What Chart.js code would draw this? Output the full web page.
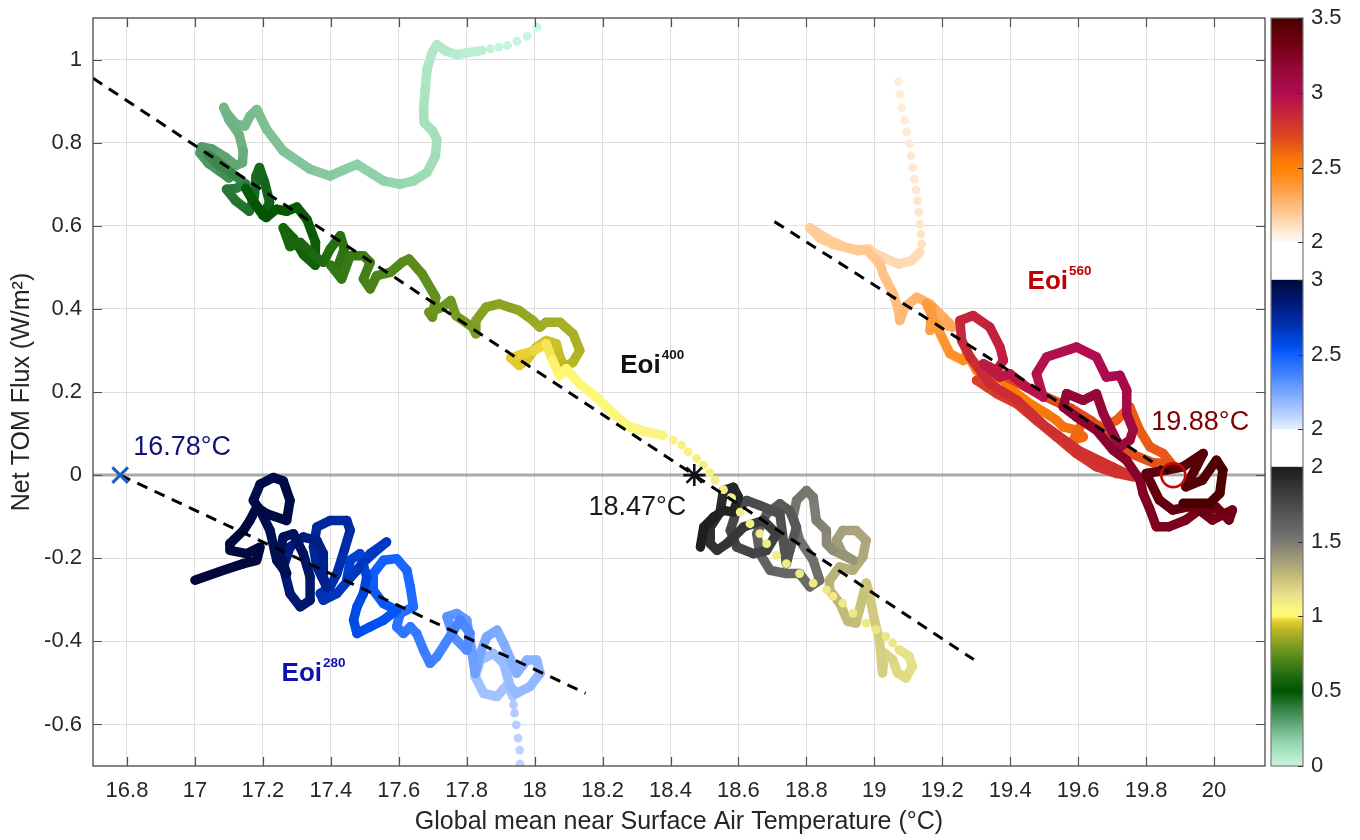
<!DOCTYPE html>
<html><head><meta charset="utf-8">
<script src="https://cdn.jsdelivr.net/npm/chart.js@4.4.1/dist/chart.umd.min.js"></script>
<style>html,body{margin:0;padding:0;background:#fff}canvas{display:block}</style>
</head><body>
<canvas id="c" width="1360" height="840"></canvas>
<script>
// ---------------- DATA ----------------
const xTicks = [16.8,17,17.2,17.4,17.6,17.8,18,18.2,18.4,18.6,18.8,19,19.2,19.4,19.6,19.8,20];
const xTickLabels = ['16.8','17','17.2','17.4','17.6','17.8','18','18.2','18.4','18.6','18.8','19','19.2','19.4','19.6','19.8','20'];
const yTicks = [-0.6,-0.4,-0.2,0,0.2,0.4,0.6,0.8,1];
const yTickLabels = ['-0.6','-0.4','-0.2','0','0.2','0.4','0.6','0.8','1'];
// colorbar ticks (position on the stacked bar, label shown)
const cbTickPos = [0,0.5,1,1.5,2,2.25,2.75,3.25,3.5,4,4.5,5];
const cbTickLabels = ['0','0.5','1','1.5','2','2','2.5','3','2','2.5','3','3.5'];

// equilibrium points
const eqTemps = [16.78, 18.47, 19.88];
const eqFlux = [0, 0, 0];
const eqLabels = ['16.78°C', '18.47°C', '19.88°C'];
const runNames = ['Eoi', 'Eoi', 'Eoi'];
const runCO2 = ['280', '400', '560'];

// regression lines [T, F]
const fit280 = [[16.78, 0], [18.15, -0.525]];
const fit400 = [[16.70, 0.955], [19.293, -0.444]];
const fit560 = [[18.706, 0.61], [19.88, 0]];
const zeroLine = [[16.7, 0], [20.15, 0]];

// trajectories: [temperature, flux, time (kyr)]
const e400DotsA = [[18.007,1.078,0.0],[17.978,1.056,0.004],[17.948,1.044,0.008],[17.92,1.034,0.012],[17.895,1.03,0.016],[17.87,1.026,0.02]];
const e400PathA = [[17.845,1.022,0.03],[17.80,1.016,0.04],[17.77,1.012,0.05],[17.74,1.02,0.06],[17.712,1.036,0.07],[17.698,1.016,0.075],[17.683,0.976,0.08],[17.678,0.928,0.09],[17.673,0.88,0.10],[17.675,0.848,0.105],[17.70,0.828,0.11],[17.712,0.808,0.115],[17.708,0.768,0.12],[17.683,0.728,0.13],[17.644,0.708,0.14],[17.604,0.70,0.15],[17.555,0.708,0.16],[17.477,0.748,0.175],[17.44,0.735,0.18],[17.398,0.72,0.185],[17.339,0.736,0.195],[17.26,0.78,0.205],[17.211,0.832,0.215],[17.182,0.88,0.22],[17.162,0.864,0.225],[17.147,0.84,0.23],[17.12,0.845,0.235],[17.09,0.875,0.24],[17.085,0.885,0.242],[17.1,0.855,0.245],[17.13,0.82,0.25],[17.142,0.78,0.26],[17.14,0.752,0.27],
[17.12,0.745,0.28],[17.09,0.765,0.29],[17.05,0.785,0.30],[17.02,0.79,0.31],[17.015,0.775,0.315],[17.04,0.75,0.32],[17.075,0.73,0.33],[17.10,0.715,0.34],[17.075,0.74,0.35],[17.04,0.77,0.355],[17.065,0.755,0.36],[17.11,0.725,0.37],[17.15,0.70,0.38],[17.12,0.69,0.39],[17.093,0.688,0.40],[17.12,0.66,0.41],[17.16,0.635,0.42],[17.175,0.67,0.43],[17.18,0.72,0.44],[17.19,0.74,0.445],[17.205,0.705,0.45],[17.22,0.656,0.46],[17.2,0.625,0.47],[17.17,0.66,0.475],[17.15,0.69,0.48],[17.18,0.65,0.49],[17.21,0.62,0.50],[17.24,0.64,0.51],[17.27,0.635,0.52],[17.3,0.645,0.525],[17.33,0.615,0.53],[17.355,0.56,0.54],[17.354,0.505,0.55],[17.32,0.53,0.56],[17.29,0.57,0.565],[17.26,0.595,0.57],[17.28,0.55,0.58],[17.31,0.56,0.585],[17.35,0.528,0.59],[17.378,0.512,0.60],
[17.398,0.544,0.61],[17.428,0.576,0.62],[17.44,0.545,0.63],[17.418,0.496,0.64],[17.40,0.505,0.645],[17.432,0.472,0.65],[17.457,0.528,0.66],[17.496,0.528,0.67],[17.516,0.512,0.68],[17.496,0.472,0.69],[17.516,0.448,0.695],[17.535,0.48,0.70],[17.575,0.488,0.71],[17.61,0.512,0.72],[17.63,0.52,0.73],[17.669,0.484,0.74],[17.709,0.428,0.75],[17.699,0.38,0.76],[17.689,0.392,0.765],[17.728,0.404,0.77],[17.753,0.42,0.78],[17.768,0.384,0.79],[17.817,0.356,0.80],[17.827,0.34,0.805],[17.827,0.372,0.81],[17.857,0.404,0.82],[17.896,0.412,0.83],[17.955,0.396,0.84],[17.995,0.372,0.85],[18.015,0.356,0.86],[18.034,0.368,0.87],[18.074,0.368,0.875],[18.113,0.34,0.88],[18.133,0.30,0.89],[18.113,0.272,0.90],[18.089,0.26,0.91],[18.074,0.284,0.92],[18.064,0.316,0.93],[18.034,0.324,0.935],[18.005,0.308,0.94],[17.976,0.276,0.95],[17.955,0.264,0.96],[17.93,0.282,0.965],[17.96,0.29,0.97],[18.0,0.30,0.975],[18.034,0.316,0.98],[18.053,0.276,0.995],[18.073,0.24,1.0],[18.093,0.256,1.01],[18.132,0.22,1.02],[18.181,0.188,1.03],[18.231,0.148,1.04],[18.28,0.116,1.05],[18.329,0.104,1.055],[18.378,0.096,1.06]];
const e400DotsB = [[18.408,0.084,1.07],[18.433,0.072,1.072],[18.452,0.056,1.074],[18.477,0.04,1.076],[18.497,0.024,1.078],[18.516,0.006,1.08],[18.531,-0.012,1.082],[18.556,-0.035,1.084],[18.58,-0.055,1.086],[18.605,-0.089,1.088],[18.634,-0.117,1.09],[18.663,-0.141,1.092],[18.683,-0.165,1.094],[18.712,-0.193,1.096],[18.741,-0.213,1.098],[18.78,-0.237,1.10],[18.82,-0.26,1.102],[18.859,-0.276,1.104],[18.878,-0.292,1.106],[18.907,-0.308,1.108],[18.937,-0.332,1.11],[18.976,-0.356,1.112],[19.005,-0.372,1.114],[19.034,-0.388,1.116],[19.054,-0.404,1.118]];
const e400PathB = [[19.073,-0.42,1.13],[19.102,-0.436,1.14],[19.112,-0.46,1.15],[19.093,-0.488,1.16],[19.068,-0.476,1.17],[19.054,-0.444,1.18],[19.029,-0.428,1.19],[19.024,-0.476,1.2],[19.015,-0.396,1.21],[19.0,-0.348,1.22],[18.985,-0.284,1.23],[18.976,-0.26,1.24],[18.966,-0.292,1.25],[18.946,-0.356,1.26],[18.922,-0.352,1.27],[18.898,-0.308,1.28],[18.868,-0.276,1.29],[18.868,-0.253,1.3],[18.898,-0.221,1.31],[18.937,-0.229,1.32],[18.966,-0.197,1.33],[18.976,-0.157,1.34],[18.946,-0.133,1.35],[18.907,-0.133,1.36],[18.888,-0.157,1.37],[18.907,-0.189,1.38],[18.937,-0.205,1.39],[18.878,-0.181,1.42],[18.859,-0.165,1.44],[18.859,-0.133,1.46],[18.829,-0.109,1.48],[18.82,-0.053,1.5],[18.8,-0.037,1.51],[18.771,-0.061,1.52],[18.761,-0.101,1.53],[18.78,-0.157,1.54],[18.82,-0.205,1.55],[18.839,-0.253,1.56],[18.81,-0.269,1.57],[18.78,-0.237,1.58],[18.741,-0.237,1.59],[18.693,-0.229,1.6],[18.663,-0.189,1.62],[18.654,-0.141,1.63],[18.683,-0.093,1.64],[18.722,-0.069,1.65],[18.751,-0.086,1.66],[18.771,-0.126,1.67],[18.751,-0.181,1.68],[18.741,-0.213,1.69],[18.732,-0.157,1.7],[18.722,-0.093,1.71],[18.663,-0.073,1.73],[18.624,-0.061,1.74],[18.595,-0.085,1.75],[18.576,-0.133,1.76],[18.595,-0.173,1.77],[18.644,-0.189,1.78],[18.683,-0.181,1.79],[18.712,-0.141,1.8],[18.673,-0.109,1.82],[18.615,-0.125,1.84],[18.566,-0.165,1.86],[18.537,-0.181,1.87],[18.517,-0.165,1.88],[18.517,-0.125,1.9],[18.546,-0.089,1.91],[18.556,-0.037,1.92],[18.585,-0.029,1.93],[18.6,-0.053,1.94],[18.585,-0.089,1.95],[18.556,-0.085,1.96],[18.527,-0.101,1.97],[18.498,-0.125,1.98],[18.488,-0.173,2.0]];

const e280Dots = [[17.957,-0.695,2.08],[17.956,-0.662,2.09],[17.951,-0.633,2.1],[17.946,-0.601,2.11],[17.941,-0.573,2.115],[17.938,-0.553,2.12]];
const e280Path = [[17.936,-0.533,2.13],[17.928,-0.517,2.135],[17.923,-0.501,2.14],[17.889,-0.533,2.145],[17.85,-0.525,2.15],[17.825,-0.485,2.155],[17.84,-0.445,2.16],[17.879,-0.429,2.165],[17.909,-0.453,2.17],[17.928,-0.509,2.175],[17.947,-0.525,2.18],[17.986,-0.509,2.185],[18.016,-0.477,2.19],[18.006,-0.445,2.195],[17.977,-0.445,2.2],[17.947,-0.477,2.21],[17.909,-0.405,2.22],[17.889,-0.373,2.23],[17.859,-0.389,2.24],[17.84,-0.429,2.25],[17.825,-0.477,2.26],[17.81,-0.397,2.28],[17.8,-0.349,2.29],[17.771,-0.333,2.3],[17.742,-0.341,2.31],[17.761,-0.389,2.32],[17.8,-0.421,2.33],[17.81,-0.381,2.34],[17.781,-0.349,2.35],[17.712,-0.437,2.37],[17.692,-0.453,2.38],[17.673,-0.421,2.39],[17.653,-0.381,2.4],[17.634,-0.365,2.41],[17.614,-0.381,2.42],[17.594,-0.365,2.43],[17.604,-0.333,2.44],[17.643,-0.317,2.45],[17.634,-0.269,2.46],[17.624,-0.229,2.47],[17.594,-0.201,2.48],[17.555,-0.205,2.49],[17.525,-0.237,2.5],[17.525,-0.277,2.51],[17.555,-0.309,2.52],[17.594,-0.325,2.53],[17.555,-0.349,2.54],[17.516,-0.365,2.55],[17.477,-0.381,2.56],[17.467,-0.349,2.57],[17.477,-0.317,2.58],[17.496,-0.285,2.59],[17.506,-0.245,2.6],[17.486,-0.189,2.61],[17.457,-0.205,2.62],[17.447,-0.253,2.63],[17.477,-0.229,2.64],[17.516,-0.189,2.645],[17.564,-0.161,2.65],[17.535,-0.181,2.655],[17.496,-0.21,2.66],[17.418,-0.285,2.67],[17.378,-0.301,2.68],[17.369,-0.285,2.69],[17.398,-0.269,2.7],[17.418,-0.237,2.71],[17.44,-0.18,2.72],[17.457,-0.133,2.73],[17.447,-0.109,2.74],[17.398,-0.109,2.75],[17.359,-0.125,2.76],[17.349,-0.173,2.77],[17.359,-0.221,2.78],[17.388,-0.269,2.79],[17.378,-0.245,2.8],[17.378,-0.189,2.81],[17.359,-0.157,2.82],[17.319,-0.149,2.83],[17.28,-0.173,2.84],[17.26,-0.221,2.85],[17.28,-0.285,2.86],[17.31,-0.317,2.87],[17.339,-0.301,2.88],[17.339,-0.245,2.89],[17.319,-0.189,2.9],[17.29,-0.141,2.91],[17.26,-0.149,2.92],[17.25,-0.189,2.93],[17.27,-0.237,2.935],[17.241,-0.205,2.94],[17.221,-0.133,2.95],[17.192,-0.085,2.955],[17.172,-0.061,2.96],[17.192,-0.022,2.965],[17.231,-0.006,2.97],[17.26,-0.014,2.975],[17.28,-0.061,2.98],[17.27,-0.109,2.982],[17.211,-0.093,2.985],[17.182,-0.077,2.987],[17.162,-0.109,2.99],[17.143,-0.133,2.992],[17.103,-0.165,2.994],[17.103,-0.181,2.995],[17.152,-0.189,2.996],[17.192,-0.173,2.997],[17.182,-0.205,2.998],[17.143,-0.213,2.999],[17.084,-0.229,3.0],[17.0,-0.253,3.0]];

const e560Dots = [[19.071,0.946,2.06],[19.075,0.916,2.063],[19.08,0.884,2.066],[19.09,0.854,2.069],[19.095,0.826,2.072],[19.103,0.798,2.075],[19.108,0.768,2.078],[19.113,0.74,2.081],[19.118,0.712,2.084],[19.123,0.686,2.087],[19.127,0.66,2.09],[19.131,0.632,2.093],[19.134,0.604,2.096],[19.137,0.58,2.1],[19.139,0.556,2.11]];
const e560Path = [[19.134,0.536,2.13],[19.11,0.516,2.135],[19.071,0.508,2.14],[19.026,0.524,2.145],[18.997,0.536,2.15],[18.983,0.545,2.155],[18.95,0.54,2.16],[18.91,0.55,2.165],[18.87,0.565,2.17],[18.83,0.585,2.175],[18.81,0.595,2.18],[18.84,0.57,2.185],[18.88,0.555,2.19],[18.93,0.545,2.195],[18.98,0.54,2.2],[19.017,0.508,2.21],[19.026,0.484,2.22],[19.056,0.436,2.23],[19.071,0.396,2.24],[19.075,0.372,2.25],[19.09,0.404,2.26],[19.125,0.428,2.27],[19.164,0.412,2.28],[19.203,0.38,2.3],[19.232,0.356,2.31],[19.183,0.364,2.33],[19.164,0.348,2.35],[19.169,0.404,2.36],[19.154,0.412,2.37],[19.2,0.33,2.39],[19.223,0.292,2.41],[19.262,0.276,2.43],[19.272,0.292,2.45],[19.301,0.252,2.47],[19.321,0.236,2.48],[19.34,0.26,2.49],[19.35,0.228,2.5],[19.331,0.212,2.51],[19.37,0.236,2.52],[19.419,0.196,2.53],[19.458,0.172,2.54],[19.507,0.148,2.55],[19.536,0.132,2.56],[19.556,0.116,2.57],[19.595,0.108,2.58],[19.615,0.092,2.59],[19.586,0.084,2.6],[19.615,0.132,2.61],[19.674,0.116,2.62],[19.713,0.132,2.63],[19.752,0.164,2.635],[19.781,0.108,2.64],[19.811,0.068,2.645],[19.85,0.052,2.65],[19.874,0.028,2.66],[19.82,0.03,2.67],[19.76,0.05,2.675],[19.7,0.09,2.68],[19.64,0.13,2.69],[19.58,0.16,2.7],[19.5,0.19,2.71],[19.44,0.215,2.72],[19.38,0.24,2.73],[19.301,0.228,2.74],[19.36,0.196,2.75],[19.419,0.172,2.76],[19.477,0.132,2.77],[19.536,0.092,2.78],[19.595,0.052,2.785],[19.654,0.02,2.79],[19.713,0.004,2.795],[19.762,-0.004,2.8],[19.70,0.02,2.805],[19.6,0.06,2.81],[19.5,0.12,2.815],[19.42,0.18,2.82],[19.34,0.22,2.83],[19.282,0.284,2.84],[19.257,0.324,2.85],[19.252,0.372,2.86],[19.291,0.384,2.87],[19.34,0.356,2.88],[19.37,0.308,2.89],[19.38,0.276,2.9],[19.36,0.252,2.91],[19.321,0.268,2.92],[19.37,0.236,2.93],[19.399,0.244,2.94],[19.448,0.212,2.95],[19.497,0.188,2.96],[19.477,0.244,2.97],[19.507,0.284,2.98],[19.595,0.308,2.99],[19.654,0.284,3.0],[19.683,0.236,3.02],[19.723,0.24,3.04],[19.743,0.204,3.06],[19.743,0.148,3.08],[19.762,0.108,3.1],[19.752,0.084,3.12],[19.723,0.068,3.13],[19.703,0.1,3.14],[19.674,0.148,3.15],[19.654,0.196,3.16],[19.615,0.18,3.17],[19.566,0.196,3.18],[19.556,0.164,3.19],[19.595,0.14,3.2],[19.654,0.108,3.21],[19.703,0.06,3.22],[19.742,0.036,3.23],[19.782,-0.012,3.24],[19.791,-0.044,3.25],[19.81,-0.08,3.26],[19.83,-0.124,3.27],[19.868,-0.124,3.28],[19.917,-0.108,3.29],[19.956,-0.084,3.3],[19.995,-0.108,3.31],[20.034,-0.092,3.32],[20.054,-0.084,3.33],[20.044,-0.108,3.34],[20.005,-0.076,3.35],[19.976,-0.092,3.36],[19.927,-0.076,3.37],[19.878,-0.084,3.38],[19.839,-0.06,3.39],[19.8,0.004,3.4],[19.86,0.012,3.41],[19.909,0.02,3.42],[19.968,0.052,3.43],[19.948,0.02,3.44],[19.917,-0.028,3.45],[19.966,-0.012,3.46],[20.007,0.036,3.47],[20.026,0.012,3.48],[20.017,-0.044,3.49],[19.987,-0.068,3.495],[19.909,-0.068,3.5]];

// ---------------- STYLE ----------------
const FONT = '"Liberation Sans", Arial, Helvetica, sans-serif';
const greenStops = [[0,'#c8f6e0'],[0.15,'#98d8b0'],[0.3,'#5aa070'],[0.4,'#2a7a3a'],[0.5,'#005400'],[0.6,'#1e6a10'],[0.7,'#4a8418'],[0.8,'#7a9c20'],[0.9,'#b4b424'],[0.97,'#e6cc30'],[1.0,'#fff870'],[1.05,'#fcf680'],[1.15,'#e6e088'],[1.25,'#cac27a'],[1.35,'#aaa47a'],[1.5,'#7a7a72'],[1.6,'#646464'],[1.8,'#404040'],[2.0,'#1c1c1c']];
const blueStops = [[2.0,'#e6f0ff'],[2.1,'#b8d0ff'],[2.2,'#8cb4ff'],[2.35,'#4a88ff'],[2.5,'#1060ff'],[2.55,'#0050f0'],[2.7,'#0030b0'],[2.85,'#001a78'],[3.0,'#00083c']];
const redStops = [[2.0,'#fffaf4'],[2.1,'#ffe4c8'],[2.2,'#ffc890'],[2.35,'#ffa048'],[2.5,'#ff8000'],[2.55,'#fa7a08'],[2.7,'#e04820'],[2.85,'#c82838'],[3.0,'#b00c50'],[3.15,'#98083a'],[3.3,'#780018'],[3.5,'#4a0000']];

function h2r(h){return [parseInt(h.slice(1,3),16),parseInt(h.slice(3,5),16),parseInt(h.slice(5,7),16)];}
function cmap(stops,t){
  if(t<=stops[0][0]) return stops[0][1];
  for(let i=1;i<stops.length;i++){
    if(t<=stops[i][0]){
      const a=h2r(stops[i-1][1]), b=h2r(stops[i][1]);
      const f=(t-stops[i-1][0])/(stops[i][0]-stops[i-1][0]);
      return 'rgb('+a.map((v,k)=>Math.round(v+(b[k]-v)*f)).join(',')+')';
    }
  }
  return stops[stops.length-1][1];
}
const pts = arr => arr.map(p => ({x:p[0], y:p[1]}));

function pathDS(arr, stops, order){
  return {data: pts(arr), showLine:true, borderWidth:9.5, pointRadius:0, borderCapStyle:'round', borderJoinStyle:'round',
    borderColor: cmap(stops, arr[0][2]), tension:0, order,
    segment:{borderColor: c => cmap(stops, (arr[c.p0DataIndex][2]+arr[c.p1DataIndex][2])/2)}};
}
function dotDS(arr, stops, order){
  return {data: pts(arr), showLine:false, pointRadius:4.4, pointBorderWidth:0, order,
    pointBackgroundColor: c => cmap(stops, arr[c.dataIndex][2])};
}
function lineDS(arr, color, width, dash, order){
  return {data: pts(arr), showLine:true, borderColor:color, borderWidth:width, borderDash:dash, pointRadius:0, order};
}

const datasets = [
  {data:[{x:eqTemps[0],y:eqFlux[0]}], showLine:false, pointStyle:'crossRot', pointRadius:11, pointBorderWidth:3, pointBorderColor:'#1462c4', order:0},
  {data:[{x:eqTemps[1],y:eqFlux[1]}], showLine:false, pointStyle:'star', pointRadius:11, pointBorderWidth:2.6, pointBorderColor:'#111', order:0},
  {data:[{x:eqTemps[2],y:eqFlux[2]}], showLine:false, pointStyle:'circle', pointRadius:12, pointBorderWidth:2.6, pointBorderColor:'#c80a0a', pointBackgroundColor:'rgba(0,0,0,0)', order:0},
  lineDS(fit280,'#000',3,[11,8],1),
  lineDS(fit400,'#000',3,[11,8],1),
  lineDS(fit560,'#000',3,[11,8],1),
  dotDS(e400DotsA, greenStops, 2),
  pathDS(e400PathA, greenStops, 3),
  dotDS(e400DotsB, greenStops, 2),
  pathDS(e400PathB, greenStops, 3),
  dotDS(e280Dots, blueStops, 5),
  pathDS(e280Path, blueStops, 5),
  dotDS(e560Dots, redStops, 5),
  pathDS(e560Path, redStops, 5),
  lineDS(zeroLine,'#a8a8a8',3,[],10)
];

const TL = 9;
const boxPlugin = {
  id:'box',
  afterDatasetsDraw(chart){
    const {ctx, chartArea:a, scales:{x,y}} = chart;
    ctx.save();
    ctx.strokeStyle='#3a3a3a'; ctx.lineWidth=1.2;
    ctx.strokeRect(a.left, a.top, a.right-a.left, a.bottom-a.top);
    ctx.beginPath();
    xTicks.forEach(v=>{const p=Math.round(x.getPixelForValue(v))+0.5; ctx.moveTo(p,a.bottom); ctx.lineTo(p,a.bottom-TL); ctx.moveTo(p,a.top); ctx.lineTo(p,a.top+TL);});
    yTicks.forEach(v=>{const p=Math.round(y.getPixelForValue(v))+0.5; ctx.moveTo(a.left,p); ctx.lineTo(a.left+TL,p); ctx.moveTo(a.right,p); ctx.lineTo(a.right-TL,p);});
    ctx.strokeStyle='#505050'; ctx.lineWidth=1.2; ctx.stroke();

    // annotations
    const eqStyle = [
      {dx:13, dy:-20, align:'left', color:'#12127a'},
      {dx:-8, dy:40, align:'right', color:'#1a1a1a'},
      {dx:-22, dy:-45, align:'left', color:'#800000'}];
    ctx.font = '27px '+FONT; ctx.textBaseline='alphabetic';
    eqTemps.forEach((t,i)=>{
      const px=x.getPixelForValue(t), py=y.getPixelForValue(eqFlux[i]);
      const s=eqStyle[i]; ctx.fillStyle=s.color; ctx.textAlign=s.align;
      ctx.fillText(eqLabels[i], px+s.dx, py+s.dy);
    });
    const runAnchor = [[17.255,-0.496,'#1010b0'],[18.252,0.246,'#111111'],[19.451,0.448,'#c00000']];
    runAnchor.forEach((r,i)=>{
      const px=x.getPixelForValue(r[0]), py=y.getPixelForValue(r[1]);
      ctx.fillStyle=r[2]; ctx.textAlign='left';
      ctx.font='bold 26px '+FONT; ctx.fillText(runNames[i], px, py);
      const w=ctx.measureText(runNames[i]).width;
      ctx.font='bold 13.5px '+FONT; ctx.fillText(runCO2[i], px+w+1, py-14);
    });
    ctx.restore();
  },
  afterDraw(chart){
    const {ctx, chartArea:a, scales:{cb}} = chart;
    const x0 = a.right+6, w = 32;
    const segs = [[0,2,greenStops,0,2],[2.25,3.25,blueStops,2,3],[3.5,5,redStops,2,3.5]];
    ctx.save();
    ctx.fillStyle='#fff';
    ctx.fillRect(x0, cb.getPixelForValue(5), w, cb.getPixelForValue(0)-cb.getPixelForValue(5));
    segs.forEach(s=>{
      const yA=cb.getPixelForValue(s[0]), yB=cb.getPixelForValue(s[1]);
      const g=ctx.createLinearGradient(0,yA,0,yB);
      for(let k=0;k<=100;k++){const t=s[3]+(s[4]-s[3])*k/100; g.addColorStop(k/100, cmap(s[2],t));}
      ctx.fillStyle=g; ctx.fillRect(x0, yB, w, yA-yB);
    });
    ctx.strokeStyle='#7a7a7a'; ctx.lineWidth=1.2;
    const yt=cb.getPixelForValue(5), yb=cb.getPixelForValue(0);
    ctx.strokeRect(x0, yt, w, yb-yt);
    ctx.beginPath();
    cbTickPos.forEach(v=>{const p=Math.round(cb.getPixelForValue(v))+0.5; ctx.moveTo(x0+w,p); ctx.lineTo(x0+w-5,p);});
    ctx.strokeStyle='#333'; ctx.lineWidth=1.2; ctx.stroke();
    ctx.restore();
  }
};

const tickFont = {family:FONT, size:22};
new Chart(document.getElementById('c'), {
  type:'line',
  data:{datasets},
  plugins:[boxPlugin],
  options:{
    responsive:false, animation:false, events:[], devicePixelRatio:1,
    layout:{padding:{top:18,left:0,right:0,bottom:0}},
    plugins:{legend:{display:false}, tooltip:{enabled:false}},
    scales:{
      x:{type:'linear', min:16.7, max:20.15,
        afterBuildTicks:s=>{s.ticks=xTicks.map(v=>({value:v}));},
        afterFit:s=>{s.height=74; s.paddingLeft=0; s.paddingRight=0;},
        ticks:{callback:(v,i)=>xTickLabels[i], autoSkip:false, maxRotation:0, padding:12, color:'#262626', font:tickFont},
        grid:{color:'#dedede', lineWidth:1, drawTicks:false}, border:{display:false},
        title:{display:true, text:'Global mean near Surface Air Temperature (°C)', color:'#262626', font:{family:FONT,size:25}, padding:{top:0,bottom:3}}},
      y:{type:'linear', position:'left', min:-0.7, max:1.1,
        afterBuildTicks:s=>{s.ticks=yTicks.map(v=>({value:v}));},
        afterFit:s=>{s.width=93; s.paddingTop=0; s.paddingBottom=0;},
        ticks:{callback:(v,i)=>yTickLabels[i], autoSkip:false, padding:11, color:'#262626', font:tickFont},
        grid:{color:'#dedede', lineWidth:1, drawTicks:false}, border:{display:false},
        title:{display:true, text:'Net TOM Flux (W/m²)', color:'#262626', font:{family:FONT,size:25}, padding:{top:7,bottom:0}}},
      cb:{type:'linear', position:'right', min:0, max:5,
        afterBuildTicks:s=>{s.ticks=cbTickPos.map(v=>({value:v}));},
        afterFit:s=>{s.width=95; s.paddingTop=0; s.paddingBottom=0;},
        ticks:{callback:(v,i)=>cbTickLabels[i], autoSkip:false, padding:46, color:'#262626', font:tickFont},
        grid:{display:false, drawTicks:false}, border:{display:false}}
    }
  }
});
</script></body></html>
